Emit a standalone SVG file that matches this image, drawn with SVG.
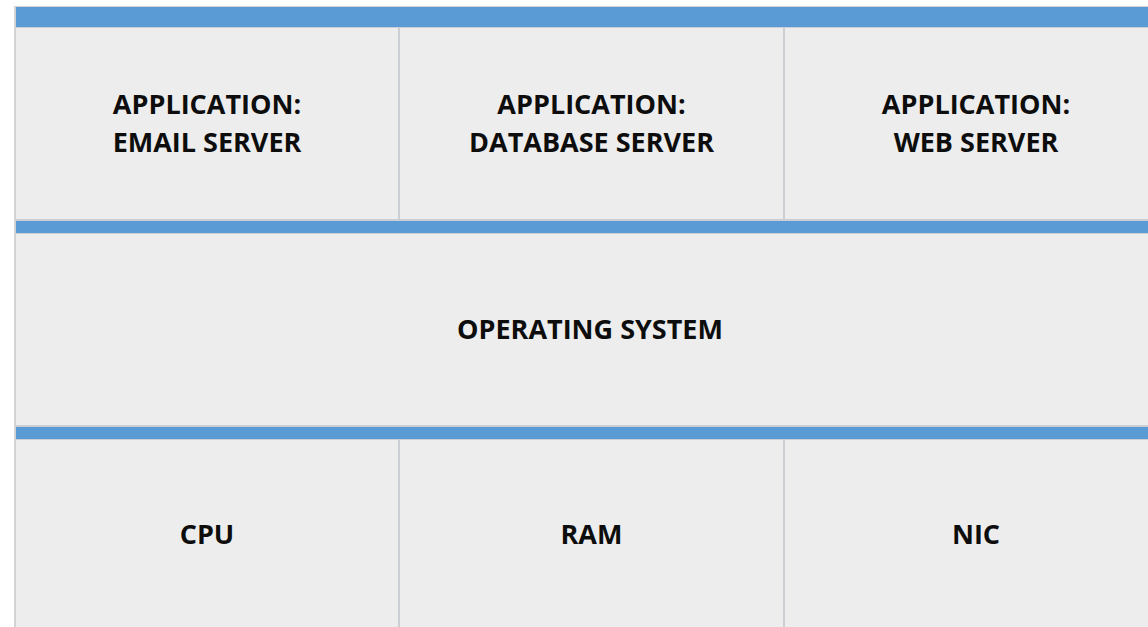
<svg xmlns="http://www.w3.org/2000/svg" width="1148" height="627" viewBox="0 0 1148 627">
<style>
.bar{fill:#5B9BD5}
.cell{fill:#EDEDED}
.edge{fill:#CBCFD4}
.lbl{font-family:"Open Sans","Liberation Sans",sans-serif;font-weight:700;font-size:27px;fill:#0D0D0D;text-anchor:middle}
</style>
<rect width="1148" height="627" fill="#FFFFFF"/>
<rect x="14" y="6" width="1160" height="630" fill="#D3D3D3"/>
<g id="bar1"><rect class="bar" x="16" y="7" width="1160" height="20"/></g>
<g id="row1">
<rect class="edge" x="16" y="27" width="1160" height="194"/>
<g id="email"><rect class="cell" x="16" y="28" width="382" height="191"/>
<text class="lbl" x="207" y="114">APPLICATION:</text><text class="lbl" x="207" y="152">EMAIL SERVER</text></g>
<g id="database"><rect class="cell" x="400" y="28" width="383" height="191"/>
<text class="lbl" x="591.5" y="114">APPLICATION:</text><text class="lbl" x="591.5" y="152">DATABASE SERVER</text></g>
<g id="web"><rect class="cell" x="785" y="28" width="400" height="191"/>
<text class="lbl" x="976" y="114">APPLICATION:</text><text class="lbl" x="976" y="152">WEB SERVER</text></g>
</g>
<g id="bar2"><rect class="bar" x="16" y="221" width="1160" height="12"/></g>
<g id="row2">
<rect class="edge" x="16" y="233" width="1160" height="194"/>
<g id="os"><rect class="cell" x="16" y="234" width="1160" height="191"/>
<text class="lbl" x="590" y="339">OPERATING SYSTEM</text></g>
</g>
<g id="bar3"><rect class="bar" x="16" y="427" width="1160" height="12"/></g>
<g id="row3">
<rect class="edge" x="16" y="439" width="1160" height="200"/>
<g id="cpu"><rect class="cell" x="16" y="440" width="382" height="200"/>
<text class="lbl" x="207" y="544">CPU</text></g>
<g id="ram"><rect class="cell" x="400" y="440" width="383" height="200"/>
<text class="lbl" x="591.5" y="544">RAM</text></g>
<g id="nic"><rect class="cell" x="785" y="440" width="400" height="200"/>
<text class="lbl" x="976" y="544">NIC</text></g>
</g>
<g id="connectors"></g>
</svg>
